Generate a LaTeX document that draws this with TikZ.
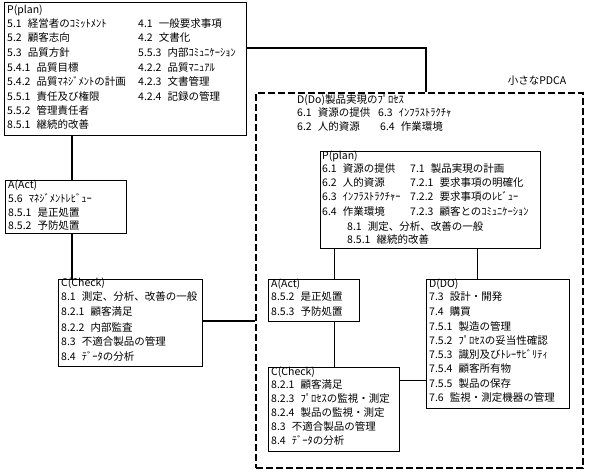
\documentclass[tikz,border=0pt]{standalone}
\usepackage{fontspec}
\setmainfont{Noto Sans CJK JP}
\newcommand{\gp}{\hspace{6pt}}
\begin{document}
\begin{tikzpicture}[x=1pt,y=-1pt,
  box/.style={draw, line width=1pt, inner sep=0, anchor=north west},
  dbox/.style={draw, line width=2pt, dash pattern=on 7pt off 3pt, inner sep=0, anchor=north west},
  conn/.style={line width=2pt},
  wire/.style={line width=1pt},
  txt/.style={anchor=west, inner sep=0, text height=8.8pt, text depth=1.2pt, font=\fontsize{10.5pt}{12pt}\selectfont}]
\useasboundingbox (0,0) rectangle (591,473);

% boxes
\node[box, minimum width=242pt, minimum height=133pt] (P) at (4,2) {};
\node[box, minimum width=121pt, minimum height=53pt] (Ao) at (5,180) {};
\node[box, minimum width=144pt, minimum height=87pt] (Co) at (58,279) {};
\node[dbox, minimum width=327pt, minimum height=375pt] (DB) at (255,92) {};
\node[box, minimum width=220pt, minimum height=97pt] (Pi) at (320,151) {};
\node[box, minimum width=91pt, minimum height=42pt] (Ai) at (268,279) {};
\node[box, minimum width=143pt, minimum height=129pt] (Di) at (426,279) {};
\node[box, minimum width=131pt, minimum height=84pt] (Ci) at (268,367) {};

% connectors
\coordinate (xa) at (72,0);
\draw[conn] (xa |- P.south) -- (xa |- Ao.north);
\draw[conn] (xa |- Ao.south) -- (xa |- Co.north);
\coordinate (ya) at (0,48);
\coordinate (xb) at (426,0);
\draw[conn] (ya -| P.east) -| (xb |- DB.north);
\coordinate (yb) at (0,321);
\draw[conn] (yb -| Co.east) -- (yb -| DB.west);
\coordinate (xc) at (334,0);
\coordinate (xd) at (477,0);
\draw[wire] (xc |- Pi.south) -- (xc |- Ai.north);
\draw[wire] (xc |- Ai.south) -- (xc |- Ci.north);
\draw[wire] (xd |- Pi.south) -- (xd |- Di.north);
\coordinate (yc) at (0,380);
\draw[wire] (yc -| Ci.east) -- (yc -| Di.west);

% P (outer)
\node[txt] (p0) at (7,10) {P(plan)};
\node[txt] (p1) at (7,24) {5.1\gp 経営者のｺﾐｯﾄﾒﾝﾄ};
\node[txt] (p2) at (7,38) {5.2\gp 顧客志向};
\node[txt] (p3) at (7,53) {5.3\gp 品質方針};
\node[txt] (p4) at (7,68) {5.4.1\gp 品質目標};
\node[txt] (p5) at (7,82) {5.4.2\gp 品質ﾏﾈｼﾞﾒﾝﾄの計画};
\node[txt] (p6) at (7,97) {5.5.1\gp 責任及び権限};
\node[txt] (p7) at (7,111) {5.5.2\gp 管理責任者};
\node[txt] (p8) at (7,125) {8.5.1\gp 継続的改善};
\node[txt] (q1) at (138,24) {4.1\gp 一般要求事項};
\node[txt] (q2) at (138,38) {4.2\gp 文書化};
\node[txt] (q3) at (138,53) {5.5.3\gp 内部ｺﾐｭﾆｹｰｼｮﾝ};
\node[txt] (q4) at (138,68) {4.2.2\gp 品質ﾏﾆｭｱﾙ};
\node[txt] (q5) at (138,82) {4.2.3\gp 文書管理};
\node[txt] (q6) at (138,97) {4.2.4\gp 記録の管理};

% A (outer)
\node[txt] (a0) at (8,185) {A(Act)};
\node[txt] (a1) at (8,199) {5.6\gp ﾏﾈｼﾞﾒﾝﾄﾚﾋﾞｭｰ};
\node[txt] (a2) at (8,213) {8.5.1\gp 是正処置};
\node[txt] (a3) at (8,226) {8.5.2\gp 予防処置};

% C (outer)
\node[txt] (c0) at (61,283) {C(Check)};
\node[txt] (c1) at (61,297) {8.1\gp 測定、分析、改善の一般};
\node[txt] (c2) at (61,312) {8.2.1\gp 顧客満足};
\node[txt] (c3) at (61,328) {8.2.2\gp 内部監査};
\node[txt] (c4) at (61,342) {8.3\gp 不適合製品の管理};
\node[txt] (c5) at (61,357) {8.4\gp ﾃﾞｰﾀの分析};

% small PDCA
\node[txt, anchor=center] (lbl) at (537,81) {小さなPDCA};
\node[txt] (d0) at (297,99.5) {D(Do)製品実現のﾌﾟﾛｾｽ};
\node[txt] (d1) at (297,113) {6.1\gp 資源の提供};
\node[txt] (d2) at (378,113) {6.3\gp ｲﾝﾌﾗｽﾄﾗｸﾁｬ};
\node[txt] (d3) at (297,127) {6.2\gp 人的資源};
\node[txt] (d4) at (380,127) {6.4\gp 作業環境};

% P (inner)
\node[txt] (pi0) at (322,155.5) {P(plan)};
\node[txt] (pi1) at (322,169) {6.1\gp 資源の提供};
\node[txt] (pi2) at (322,183) {6.2\gp 人的資源};
\node[txt] (pi3) at (322,197) {6.3\gp ｲﾝﾌﾗｽﾄﾗｸﾁｬｰ};
\node[txt] (pi4) at (322,212) {6.4\gp 作業環境};
\node[txt] (pj1) at (410,169) {7.1\gp 製品実現の計画};
\node[txt] (pj2) at (410,183) {7.2.1\gp 要求事項の明確化};
\node[txt] (pj3) at (410,197) {7.2.2\gp 要求事項のﾚﾋﾞｭｰ};
\node[txt] (pj4) at (410,212) {7.2.3\gp 顧客とのｺﾐｭﾆｹｰｼｮﾝ};
\node[txt] (pk1) at (347,227) {8.1\gp 測定、分析、改善の一般};
\node[txt] (pk2) at (347,240) {8.5.1\gp 継続的改善};

% A (inner)
\node[txt] (ai0) at (271,283.5) {A(Act)};
\node[txt] (ai1) at (271,297) {8.5.2\gp 是正処置};
\node[txt] (ai2) at (271,312) {8.5.3\gp 予防処置};

% D (inner)
\node[txt] (di0) at (429,283.5) {D(DO)};
\node[txt] (di1) at (429,297) {7.3\gp 設計・開発};
\node[txt] (di2) at (429,312) {7.4\gp 購買};
\node[txt] (di3) at (429,327) {7.5.1\gp 製造の管理};
\node[txt] (di4) at (429,341) {7.5.2\gp ﾌﾟﾛｾｽの妥当性確認};
\node[txt] (di5) at (429,355) {7.5.3\gp 識別及びﾄﾚｰｻﾋﾞﾘﾃｨ};
\node[txt] (di6) at (429,369) {7.5.4\gp 顧客所有物};
\node[txt] (di7) at (429,384) {7.5.5\gp 製品の保存};
\node[txt] (di8) at (429,398) {7.6\gp 監視・測定機器の管理};

% C (inner)
\node[txt] (ci0) at (271,371.5) {C(Check)};
\node[txt] (ci1) at (271,385) {8.2.1\gp 顧客満足};
\node[txt] (ci2) at (271,399) {8.2.3\gp ﾌﾟﾛｾｽの監視・測定};
\node[txt] (ci3) at (271,413) {8.2.4\gp 製品の監視・測定};
\node[txt] (ci4) at (271,427) {8.3\gp 不適合製品の管理};
\node[txt] (ci5) at (271,441) {8.4\gp ﾃﾞｰﾀの分析};
\end{tikzpicture}
\end{document}
